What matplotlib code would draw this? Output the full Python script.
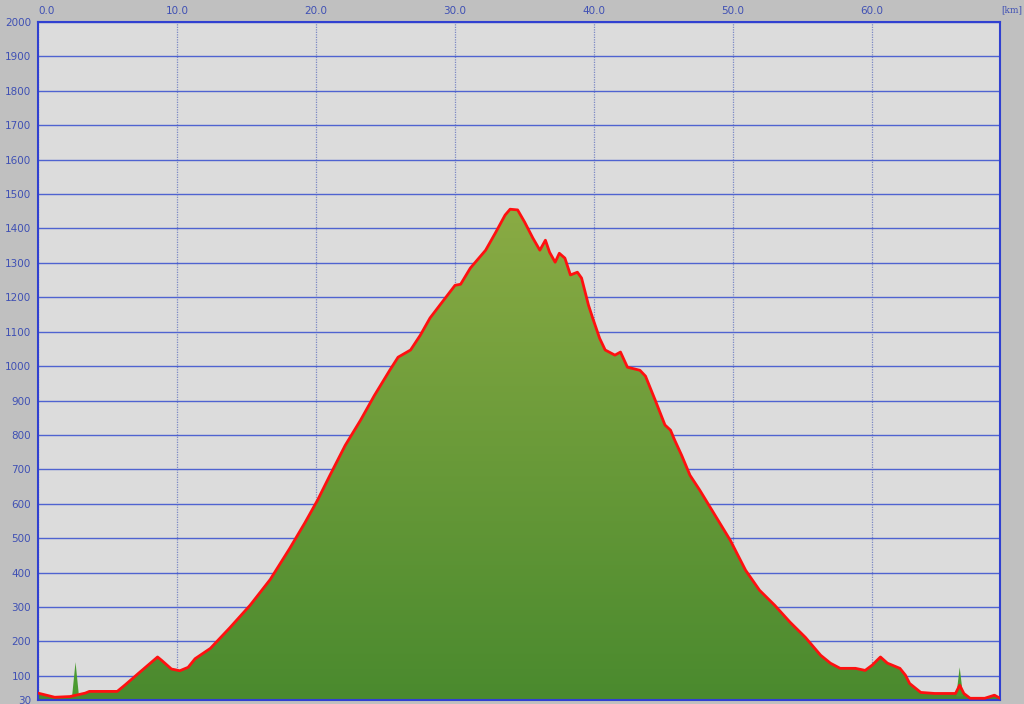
import numpy as np
import matplotlib.pyplot as plt
from matplotlib.colors import LinearSegmentedColormap

# elevation profile (km, m)
dist = [0.0, 0.5, 1.2, 2.3, 3.4, 3.7, 5.7, 6.3, 7.3, 8.6, 8.9, 9.6, 10.2, 10.8,
        11.3, 12.4, 13.8, 15.25, 16.7, 18.1, 19.2, 20.1, 21.0, 22.1, 23.2, 24.2,
        25.3, 25.9, 26.8, 27.5, 28.2, 28.9, 30.0, 30.4, 31.1, 32.2, 32.9, 33.6,
        33.96, 34.5, 35.0, 35.6, 36.1, 36.5, 36.8, 37.2, 37.5, 37.9, 38.3, 38.8,
        39.1, 39.6, 39.9, 40.4, 40.8, 41.5, 41.9, 42.4, 43.3, 43.7, 44.4, 45.1,
        45.5, 45.8, 46.3, 46.9, 47.6, 48.7, 49.8, 50.9, 51.9, 53.0, 54.1, 55.2,
        56.3, 57.0, 57.7, 58.8, 59.5, 60.0, 60.6, 61.1, 62.0, 62.4, 62.7, 63.5,
        64.5, 66.0, 66.3, 66.6, 67.05, 68.1, 68.8, 69.2]
elev = [50, 45, 38, 40, 50, 55, 55, 75, 110, 155, 145, 120, 115, 125,
        150, 180, 240, 305, 380, 470, 545, 610, 683, 770, 843, 915,
        988, 1026, 1047, 1090, 1140, 1177, 1235, 1238, 1285, 1337, 1387, 1439,
        1456, 1454, 1419, 1372, 1337, 1366, 1331, 1302, 1328, 1314, 1265, 1273,
        1256, 1177, 1140, 1081, 1047, 1032, 1041, 997, 988, 971, 901, 829,
        814, 785, 741, 683, 640, 567, 494, 407, 349, 305, 256, 212,
        160, 137, 122, 122, 116, 131, 155, 137, 122, 102, 78, 52,
        49, 49, 73, 49, 35, 35, 44, 35]

# narrow green spikes in the fill
spike_km = [2.7, 66.3]
spike_top = [140, 125]

x_ticks = [0, 10, 20, 30, 40, 50, 60]
y_ticks = [30] + list(range(100, 2001, 100))

blue = '#3f50b4'

fig = plt.figure(figsize=(10.24, 7.04), dpi=100, facecolor='#c0c0c0')
ax = fig.add_axes([38 / 1024, 1 - 700 / 704, 962 / 1024, 678 / 704])
ax.set_facecolor('#dcdcdc')
ax.set_xlim(0, 69.2)
ax.set_ylim(30, 2000)

# gradient fill clipped to the profile
cmap = LinearSegmentedColormap.from_list('g', ['#4a8a2e', '#8aab44'])
grad = np.linspace(0, 1, 256).reshape(-1, 1)
img = ax.imshow(grad, aspect='auto', cmap=cmap, origin='lower',
                extent=[0, 69.2, 30, 1460], zorder=2)
poly = ax.fill_between(dist, elev, 30, color='none', lw=0)
clip = plt.Polygon(poly.get_paths()[0].vertices, closed=True, transform=ax.transData)
img.set_clip_path(clip)

for k, t in zip(spike_km, spike_top):
    ax.fill([k - 0.25, k, k + 0.25], [40, t, 40], color='#4a9a30', lw=0, zorder=2)

ax.plot(dist, elev, color='#ff1010', lw=2.0, zorder=3)

ax.set_yticks(y_ticks)
ax.set_yticklabels([str(v) for v in y_ticks])
ax.set_xticks(x_ticks)
ax.set_xticklabels(['%.1f' % v for v in x_ticks])
ax.xaxis.tick_top()
ax.tick_params(length=0, labelsize=7.5, labelcolor=blue, pad=5)
ax.tick_params(axis='x', pad=4)
ax.get_xticklabels()[0].set_ha('left')

ax.grid(axis='y', color='#4f63d0', lw=1, zorder=1)
ax.grid(axis='x', color='#7c88c4', lw=0.9, ls=(0, (1, 1)), zorder=1)
ax.set_axisbelow(True)
for s in ax.spines.values():
    s.set_color('#3040d0')
    s.set_linewidth(1.5)

fig.text(1001 / 1024, 1 - 10 / 704, '[km]', color=blue, fontsize=6.5, va='center',
         family='DejaVu Serif')

fig.savefig('out.png', dpi=100, facecolor=fig.get_facecolor())
